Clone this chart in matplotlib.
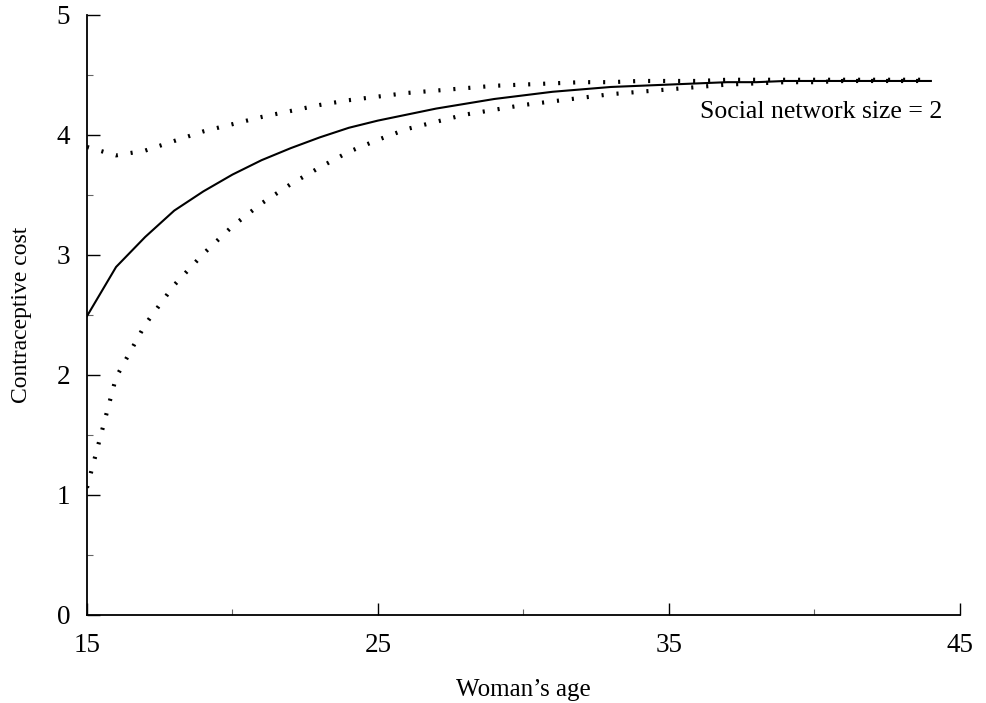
import matplotlib
matplotlib.use("Agg")
from matplotlib import pyplot as plt
from matplotlib.ticker import MultipleLocator

plt.rcParams['font.family'] = ['Liberation Serif', 'DejaVu Serif']

# woman's age, one point per year
age = [15, 16, 17, 18, 19, 20, 21, 22, 23, 24, 25, 26, 27, 28, 29,
       30, 31, 32, 33, 34, 35, 36, 37, 38, 39, 40, 41, 42, 43, 44]

# contraceptive cost, middle curve (solid)
cost_mid = [2.49, 2.90, 3.15, 3.37, 3.53, 3.67, 3.79, 3.89, 3.98, 4.06,
            4.12, 4.17, 4.22, 4.26, 4.30, 4.33, 4.36, 4.38, 4.40, 4.41,
            4.42, 4.43, 4.44, 4.44, 4.45, 4.45, 4.45, 4.45, 4.45, 4.45]

# upper dotted curve
cost_high = [3.90, 3.83, 3.87, 3.95, 4.03, 4.09, 4.15, 4.20, 4.25, 4.29,
             4.32, 4.35, 4.37, 4.39, 4.41, 4.42, 4.43, 4.44, 4.44, 4.45,
             4.45, 4.45, 4.46, 4.46, 4.46, 4.46, 4.46, 4.46, 4.46, 4.46]

# lower dotted curve
cost_low = [1.06, 1.98, 2.42, 2.75, 3.01, 3.24, 3.43, 3.59, 3.73, 3.86,
            3.96, 4.05, 4.11, 4.17, 4.21, 4.25, 4.28, 4.31, 4.34, 4.36,
            4.38, 4.40, 4.42, 4.43, 4.44, 4.44, 4.45, 4.45, 4.45, 4.45]

xticks = [15, 25, 35, 45]
yticks = [0, 1, 2, 3, 4, 5]

fig = plt.figure(figsize=(9.86, 7.03), dpi=100)
ax = fig.add_axes([0.0882, 0.1252, 0.8854, 0.8535])

dots = (0, (0.5, 3.1))
ax.plot(age, cost_high, color='black', lw=3.0, linestyle=dots, dash_capstyle='butt')
ax.plot(age, cost_low, color='black', lw=3.0, linestyle=dots, dash_capstyle='butt')
ax.plot(age, cost_mid, color='black', lw=1.5)

ax.text(36.05, 4.19, 'Social network size = 2', fontsize=18.5, va='center', ha='left')

ax.set_xlim(15, 45)
ax.set_ylim(0, 5)
ax.set_xticks(xticks)
ax.set_yticks(yticks)
ax.xaxis.set_minor_locator(MultipleLocator(5))
ax.yaxis.set_minor_locator(MultipleLocator(0.5))
ax.tick_params(which='major', direction='in', length=9, width=1, labelsize=19.5, color='black')
ax.tick_params(which='minor', direction='in', length=4, width=0.8, color='#666666')
ax.tick_params(axis='x', which='major', pad=13)
ax.tick_params(axis='y', which='major', pad=12)

for s in ['top', 'right']:
    ax.spines[s].set_visible(False)
for s in ['left', 'bottom']:
    ax.spines[s].set_linewidth(1.3)

ax.set_xlabel("Woman\u2019s age", fontsize=18, labelpad=15)
ax.set_ylabel('Contraceptive cost', fontsize=17, labelpad=18)

fig.savefig('out.png', dpi=100)
